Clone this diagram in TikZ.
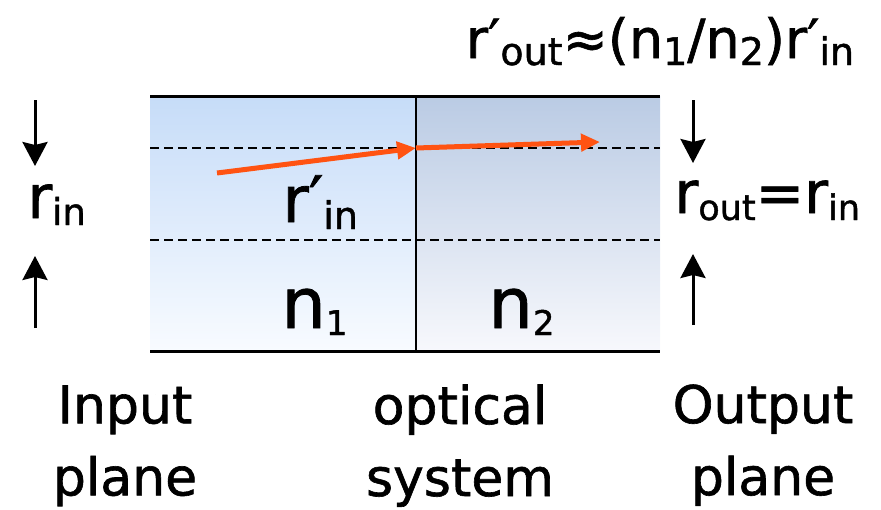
\documentclass[tikz,border=0pt]{standalone}
\usepackage{fontspec}
\setmainfont{DejaVu Sans}[FakeBold=1.2]
\usetikzlibrary{arrows.meta}
\definecolor{rayorange}{HTML}{FF5312}
\definecolor{glassLtop}{HTML}{C6DCF8}
\definecolor{glassLbot}{HTML}{F8FBFF}
\definecolor{glassRtop}{HTML}{BACBE4}
\definecolor{glassRbot}{HTML}{F7F8FC}
% subscript lowered below the baseline
\newcommand{\sbs}[2]{\raisebox{-7pt}{\fontsize{#1}{#1}\selectfont #2}}
\begin{document}
\begin{tikzpicture}[x=1pt, y=-1pt, line width=3pt,
  >={Stealth[length=24pt, width=25pt, inset=3pt]},
  raytip/.style={-{Triangle[length=19pt, width=17pt]}, line width=5pt, color=rayorange},
  guide/.style={dashed, dash pattern=on 9pt off 5pt, line width=2.2pt},
  biglabel/.style={inner sep=0pt, anchor=base west},
  caption/.style={inner sep=0pt, anchor=north, align=center, font=\fontsize{52}{72}\selectfont}]
  \useasboundingbox (0,0) rectangle (881,509);

  % 1. two media, shaded
  \shade[top color=glassLtop, bottom color=glassLbot] (150,96) rectangle (416,351);
  \shade[top color=glassRtop, bottom color=glassRbot] (416,96) rectangle (660,351);
  \draw (150,96) -- (660,96);
  \draw (150,351) -- (660,351);
  \draw[line width=2.5pt] (416,96) -- (416,351);

  % 2. dashed guides for the beam height
  \draw[guide] (150,148) -- (660,148);
  \draw[guide] (150,240) -- (660,240);

  % 3. ray through the interface
  \coordinate (rayStart) at (217,173);
  \coordinate (rayHit) at (416,148);
  \coordinate (rayEnd) at (600,142);
  \draw[raytip] (rayStart) -- (rayHit);
  \draw[raytip] (rayHit) -- (rayEnd);

  % 4. labels
  \node[biglabel, font=\fontsize{60}{60}\selectfont] (rin) at (26,218) {r\sbs{37}{in}};
  \node[biglabel, font=\fontsize{58}{58}\selectfont] (rout) at (673,213) {r\sbs{35}{out}=r\sbs{35}{in}};
  \node[biglabel, font=\fontsize{64}{64}\selectfont] (rpin) at (281,222) {r′\sbs{38}{in}};
  \node[biglabel, font=\fontsize{70}{70}\selectfont] (nA) at (280,328) {n\sbs{34}{1}};
  \node[biglabel, font=\fontsize{70}{70}\selectfont] (nB) at (487,328) {n\sbs{34}{2}};
  \node[inner sep=0pt, anchor=base, font=\fontsize{54}{54}\selectfont] (routp) at (660,58)
    {r′\sbs{38}{out}≈(n\sbs{38}{1}/n\sbs{38}{2})r′\sbs{38}{in}};

  % 5. height arrows at both planes
  \coordinate (inTop) at (35,100);    \coordinate (inTopTip) at (35,166);
  \coordinate (inBot) at (35,328);    \coordinate (inBotTip) at (35,256);
  \coordinate (outTop) at (693,100);  \coordinate (outTopTip) at (693,163);
  \coordinate (outBot) at (693,325);  \coordinate (outBotTip) at (693,254);
  \draw[->] (inTop) -- (inTopTip);
  \draw[->] (inBot) -- (inBotTip);
  \draw[->] (outTop) -- (outTopTip);
  \draw[->] (outBot) -- (outBotTip);

  % 6. plane captions
  \node[caption] (inplane) at (125,384) {Input\\plane};
  \node[caption] (optsys) at (460,383) {optical\\system};
  \node[caption] (outplane) at (763,383) {Output\\plane};
\end{tikzpicture}
\end{document}
